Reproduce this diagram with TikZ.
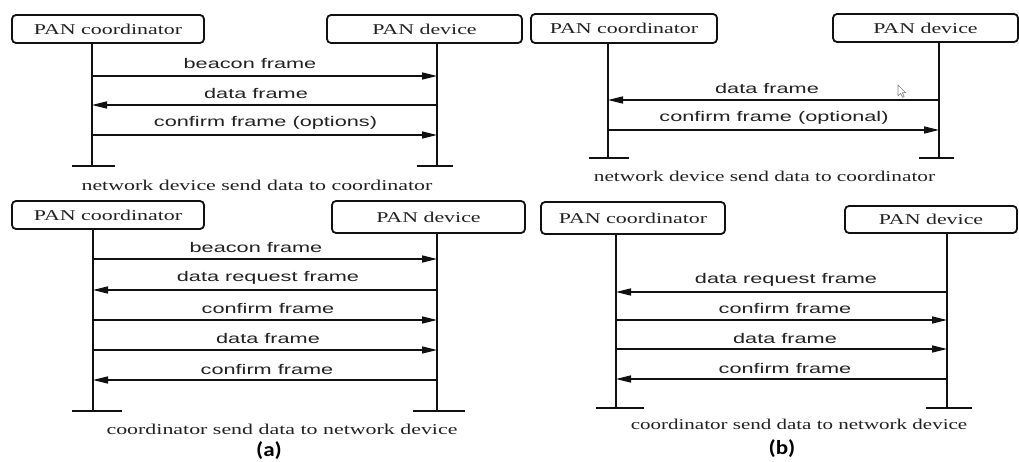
\documentclass[tikz,border=0pt]{standalone}
\usepackage{fontspec}
\usepackage{graphicx}
\usetikzlibrary{arrows.meta}
\newfontfamily\lblfont{Liberation Sans}
\newfontfamily\serfont{Liberation Serif}
\newfontfamily\capfont{Carlito}
\definecolor{linec}{HTML}{111111}
\definecolor{txtc}{HTML}{222222}
\newcommand{\stS}[1]{\scalebox{1.46}[1]{#1}}
\newcommand{\stL}[1]{\scalebox{1.55}[1]{#1}}
\tikzset{
  pbox/.style={draw=linec, line width=1.8pt, rounded corners=4pt, inner sep=0pt,
    font=\serfont\fontsize{15}{18}\selectfont, text=txtc},
  life/.style={draw=linec, line width=2.6pt},
  endbar/.style={draw=linec, line width=2pt},
  msg/.style={draw=linec, line width=1.5pt, -{Triangle[length=15pt,width=7pt]}},
  lbl/.style={font=\lblfont\fontsize{14}{16}\selectfont, text=txtc, inner sep=0pt},
  capt/.style={font=\serfont\fontsize{15}{18}\selectfont, text=txtc, inner sep=0pt},
  sub/.style={font=\capfont\bfseries\fontsize{20}{23}\selectfont, text=black, inner sep=0pt}
}
\begin{document}
\begin{tikzpicture}[x=1pt,y=-1pt]
\useasboundingbox[fill=white] (0,0) rectangle (1019,462);

% ---------- (a) top ----------
\node[pbox, minimum width=192pt, minimum height=28pt] (aTC) at (108,29) {\stS{PAN coordinator}};
\node[pbox, minimum width=195pt, minimum height=28pt] (aTD) at (424.5,29) {\stS{PAN device}};
\coordinate (aTCb) at (92,167);
\coordinate (aTDb) at (437,167);
\draw[life] (aTC.south -| aTCb) -- (aTCb);
\draw[life] (aTD.south -| aTDb) -- (aTDb);
\draw[endbar] (72,166) -- (115,166);
\draw[endbar] (417,166) -- (453,166);
\draw[msg] (aTCb |- 0,76) -- (aTDb |- 0,76);
\draw[msg] (aTDb |- 0,105) -- (aTCb |- 0,105);
\draw[msg] (aTCb |- 0,135) -- (aTDb |- 0,135);
\node[lbl] (aT1) at (250,63) {\stL{beacon frame}};
\node[lbl] (aT2) at (256,93) {\stL{data frame}};
\node[lbl] (aT3) at (265.5,123) {\stL{confirm frame (options)}};
\node[capt] (aTcap) at (257,185) {\stS{network device send data to coordinator}};

% ---------- (a) bottom ----------
\node[pbox, minimum width=192pt, minimum height=28pt] (aBC) at (108,215) {\stS{PAN coordinator}};
\node[pbox, minimum width=193pt, minimum height=32pt] (aBD) at (428.5,217) {\stS{PAN device}};
\coordinate (aBCb) at (93,411);
\coordinate (aBDb) at (437,411);
\draw[life] (aBC.south -| aBCb) -- (aBCb);
\draw[life] (aBD.south -| aBDb) -- (aBDb);
\draw[endbar] (72,411) -- (122,411);
\draw[endbar] (413,411) -- (465,411);
\draw[msg] (aBCb |- 0,259) -- (aBDb |- 0,259);
\draw[msg] (aBDb |- 0,290) -- (aBCb |- 0,290);
\draw[msg] (aBCb |- 0,320) -- (aBDb |- 0,320);
\draw[msg] (aBCb |- 0,350) -- (aBDb |- 0,350);
\draw[msg] (aBDb |- 0,380) -- (aBCb |- 0,380);
\node[lbl] (aB1) at (256,247) {\stL{beacon frame}};
\node[lbl] (aB2) at (268,278) {\stL{data request frame}};
\node[lbl] (aB3) at (268,308) {\stL{confirm frame}};
\node[lbl] (aB4) at (268,338) {\stL{data frame}};
\node[lbl] (aB5) at (267,369) {\stL{confirm frame}};
\node[capt] (aBcap) at (282,429) {\stS{coordinator send data to network device}};
\node[sub] (suba) at (269,451) {\scalebox{1.15}[1]{(a)}};

% ---------- (b) top ----------
\node[pbox, minimum width=186pt, minimum height=29pt] (bTC) at (624,28.5) {\stS{PAN coordinator}};
\node[pbox, minimum width=185pt, minimum height=28pt] (bTD) at (925.5,28) {\stS{PAN device}};
\coordinate (bTCb) at (608,158);
\coordinate (bTDb) at (939,158);
\draw[life] (bTC.south -| bTCb) -- (bTCb);
\draw[life] (bTD.south -| bTDb) -- (bTDb);
\draw[endbar] (589,158) -- (629,158);
\draw[endbar] (919,158) -- (954,158);
\draw[msg] (bTDb |- 0,100) -- (bTCb |- 0,100);
\draw[msg] (bTCb |- 0,130) -- (bTDb |- 0,130);
\node[lbl] (bT1) at (767,88) {\stL{data frame}};
\node[lbl] (bT2) at (774,118) {\stL{confirm frame (optional)}};
\node[capt] (bTcap) at (764.5,176) {\scalebox{1.42}[1]{network device send data to coordinator}};
% mouse pointer
\draw[gray, line width=0.6pt, line join=round] (898,85) -- (898,96) -- (900.6,93.4) -- (902.6,97.4) -- (904.2,96.6) -- (902.3,92.8) -- (905.8,92.8) -- cycle;

% ---------- (b) bottom ----------
\node[pbox, minimum width=184pt, minimum height=32pt] (bBC) at (633,218) {\stS{PAN coordinator}};
\node[pbox, minimum width=172pt, minimum height=27pt] (bBD) at (931,219.5) {\stS{PAN device}};
\coordinate (bBCb) at (616,408);
\coordinate (bBDb) at (947,408);
\draw[life] (bBC.south -| bBCb) -- (bBCb);
\draw[life] (bBD.south -| bBDb) -- (bBDb);
\draw[endbar] (596,408) -- (644,408);
\draw[endbar] (926,408) -- (972,408);
\draw[msg] (bBDb |- 0,292) -- (bBCb |- 0,292);
\draw[msg] (bBCb |- 0,320) -- (bBDb |- 0,320);
\draw[msg] (bBCb |- 0,349) -- (bBDb |- 0,349);
\draw[msg] (bBDb |- 0,379) -- (bBCb |- 0,379);
\node[lbl] (bB1) at (786,280) {\stL{data request frame}};
\node[lbl] (bB2) at (785,308) {\stL{confirm frame}};
\node[lbl] (bB3) at (785,338) {\stL{data frame}};
\node[lbl] (bB4) at (785,368) {\stL{confirm frame}};
\node[capt] (bBcap) at (799,424) {\scalebox{1.40}[1]{coordinator send data to network device}};
\node[sub] (subb) at (782,449) {\scalebox{1.15}[1]{(b)}};
\end{tikzpicture}
\end{document}
